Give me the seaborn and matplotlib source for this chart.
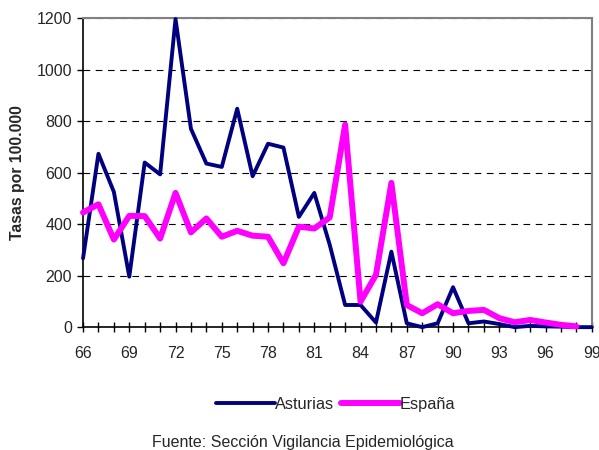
import matplotlib
matplotlib.use("Agg")
import matplotlib.pyplot as plt
import seaborn as sns
import numpy as np
import pandas as pd
from matplotlib.ticker import MultipleLocator

years_ast = list(range(66, 100))
asturias = [267, 673, 525, 196, 639, 593, 1196, 770, 635, 622, 848, 586, 712, 697,
            428, 521, 320, 86, 86, 18, 293, 15, 0, 15, 155, 15, 22, 12, 0, 5, 3, 2, 0, 0]
years_esp = list(range(66, 99))
espana = [445, 477, 340, 432, 431, 344, 521, 368, 422, 351, 374, 355, 351, 248,
          390, 383, 426, 786, 99, 203, 560, 86, 54, 89, 54, 63, 67, 35, 19, 28, 18, 9, 3]
xtick_labels = [66, 69, 72, 75, 78, 81, 84, 87, 90, 93, 96, 99]

sns.set_style("white")
plt.rcParams['font.family'] = ['Liberation Sans', 'DejaVu Sans']

fig = plt.figure(figsize=(5.99, 4.5), dpi=100)
ax = fig.add_axes([0.1386, 0.273, 0.988 - 0.1386, 0.96 - 0.273])

df_a = pd.DataFrame({"year": years_ast, "val": asturias})
df_e = pd.DataFrame({"year": years_esp, "val": espana})
sns.lineplot(data=df_a, x="year", y="val", ax=ax, color="#000080", linewidth=2.8,
             label="Asturias", clip_on=False, zorder=3)
sns.lineplot(data=df_e, x="year", y="val", ax=ax, color="#FF00FF", linewidth=4.3,
             label="España", clip_on=False, zorder=4)

ax.set_xlim(66, 99)
ax.set_ylim(0, 1200)
ax.set_xticks(xtick_labels)
ax.set_xticklabels([str(v) for v in xtick_labels])
ax.xaxis.set_minor_locator(MultipleLocator(1))
ax.set_yticks(range(0, 1201, 200))
ax.yaxis.grid(True, linestyle=(0, (6, 5)), color="black", linewidth=0.8)
ax.xaxis.grid(False)
ax.set_axisbelow(True)

for s in ["top", "right"]:
    ax.spines[s].set_color("#808080")
    ax.spines[s].set_linewidth(1.5)
for s in ["left", "bottom"]:
    ax.spines[s].set_color("black")
    ax.spines[s].set_linewidth(1.2)

ax.tick_params(axis="x", which="both", direction="inout", length=7, width=1,
               color="black", bottom=True, pad=10, labelsize=11.5)
ax.tick_params(axis="y", which="major", direction="out", length=4, width=1,
               color="black", left=True, pad=4, labelsize=11.5)

ax.set_xlabel("")
ax.set_ylabel("Tasas por 100.000", fontsize=11.3, fontweight="bold", labelpad=8)

ax.get_legend().remove()
handles, labels = ax.get_legend_handles_labels()
fig.legend(handles, labels, loc="center", bbox_to_anchor=(0.56, 0.102), ncol=2,
           frameon=False, fontsize=11.8, handlelength=3.6, handletextpad=0.0,
           columnspacing=0.4)

fig.text(0.505, 0.0, "Fuente: Sección Vigilancia Epidemiológica", ha="center",
         va="bottom", fontsize=11.5)

fig.savefig("out.png", dpi=100)
